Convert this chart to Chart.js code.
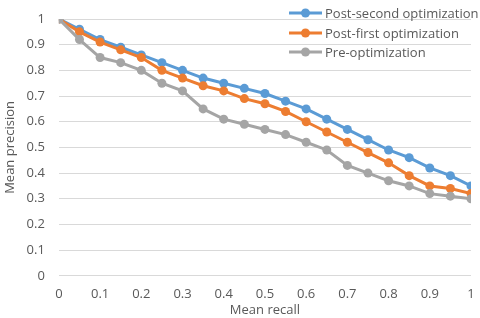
<!DOCTYPE html>
<html>
<head>
<meta charset="utf-8">
<script src="https://cdn.jsdelivr.net/npm/chart.js@4"></script>
<style>
  html, body { margin: 0; padding: 0; background: #fff; overflow: hidden; }
  #wrap { width: 480px; height: 318px; }
</style>
</head>
<body>
<div id="wrap"><canvas id="myChart"></canvas></div>
<script>
var recall = [0, 0.05, 0.1, 0.15, 0.2, 0.25, 0.3, 0.35, 0.4, 0.45, 0.5, 0.55, 0.6, 0.65, 0.7, 0.75, 0.8, 0.85, 0.9, 0.95, 1];
var postSecond = [1, 0.96, 0.92, 0.89, 0.86, 0.83, 0.8, 0.77, 0.75, 0.73, 0.71, 0.68, 0.65, 0.61, 0.57, 0.53, 0.49, 0.46, 0.42, 0.39, 0.35];
var postFirst = [1, 0.95, 0.91, 0.88, 0.85, 0.8, 0.77, 0.74, 0.72, 0.69, 0.67, 0.64, 0.6, 0.56, 0.52, 0.48, 0.44, 0.39, 0.35, 0.34, 0.32];
var preOpt = [1, 0.92, 0.85, 0.83, 0.8, 0.75, 0.72, 0.65, 0.61, 0.59, 0.57, 0.55, 0.52, 0.49, 0.43, 0.4, 0.37, 0.35, 0.32, 0.31, 0.3];
var seriesNames = ["Post-second optimization", "Post-first optimization", "Pre-optimization"];
var seriesColors = ["#5B9BD5", "#ED7D31", "#A5A5A5"];

var FONT = "'Open Sans', sans-serif";
var TEXT = "#595959";

function pts(vals) {
  return vals.map(function (v, i) { return { x: recall[i], y: v }; });
}

function mkSet(i, vals) {
  return {
    label: seriesNames[i],
    data: pts(vals),
    borderColor: seriesColors[i],
    backgroundColor: seriesColors[i],
    borderWidth: 3,
    pointRadius: 4.5,
    pointHoverRadius: 4.5,
    pointBorderWidth: 0,
    tension: 0,
    order: 3 - i,
  };
}

function fmt(v) {
  return String(Math.round(v * 10) / 10);
}

// legend stacked in the top-right corner, over the plot
var cornerLegend = {
  id: "cornerLegend",
  afterDraw: function (chart) {
    var c = chart.ctx;
    c.save();
    c.font = "13px " + FONT;
    c.textBaseline = "middle";
    c.textAlign = "left";
    var ys = [13, 33, 52];
    for (var i = 0; i < seriesNames.length; i++) {
      var y = ys[i];
      c.strokeStyle = seriesColors[i];
      c.lineWidth = 3;
      c.beginPath();
      c.moveTo(289, y);
      c.lineTo(322, y);
      c.stroke();
      c.fillStyle = seriesColors[i];
      c.beginPath();
      c.arc(305.5, y, 4.5, 0, Math.PI * 2);
      c.fill();
      c.fillStyle = TEXT;
      c.fillText(seriesNames[i], 325, y + 1);
    }
    c.restore();
  },
};

var ctx = document.getElementById("myChart").getContext("2d");
var myChart = new Chart(ctx, {
  type: "line",
  data: {
    datasets: [mkSet(0, postSecond), mkSet(1, postFirst), mkSet(2, preOpt)],
  },
  options: {
    responsive: true,
    maintainAspectRatio: false,
    animation: false,
    layout: { padding: { top: 19, right: 0, left: 2, bottom: 0 } },
    plugins: {
      legend: { display: false },
      tooltip: { enabled: false },
    },
    scales: {
      x: {
        type: "linear",
        min: 0,
        max: 1,
        grid: { display: false, drawTicks: false },
        border: { display: false },
        ticks: {
          stepSize: 0.1,
          color: TEXT,
          font: { family: FONT, size: 13 },
          padding: 11,
          maxRotation: 0,
          callback: fmt,
        },
        afterFit: function (s) {
          s.paddingRight = 9;
        },
        title: {
          display: true,
          text: "Mean recall",
          color: TEXT,
          font: { family: FONT, size: 13 },
          padding: { top: -11, bottom: 0 },
        },
      },
      y: {
        min: 0,
        max: 1,
        grid: { color: "#D9D9D9", drawTicks: false, lineWidth: 1 },
        border: { display: false },
        ticks: {
          stepSize: 0.1,
          color: TEXT,
          font: { family: FONT, size: 13 },
          padding: 14,
          callback: fmt,
        },
        afterFit: function (s) {
          s.paddingTop = 8;
          s.paddingBottom = 8;
        },
        title: {
          display: true,
          text: "Mean precision",
          color: TEXT,
          font: { family: FONT, size: 13 },
          padding: { top: 0, bottom: -5 },
        },
      },
    },
  },
  plugins: [cornerLegend],
});
</script>
</body>
</html>
